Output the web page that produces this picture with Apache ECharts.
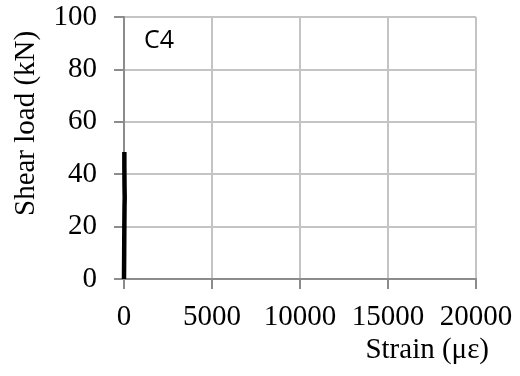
<!DOCTYPE html>
<html>
<head>
<meta charset="utf-8">
<script src="https://cdn.jsdelivr.net/npm/echarts@6/dist/echarts.min.js"></script>
<style>
  html, body { margin: 0; padding: 0; background: #fff; }
  #chart { width: 520px; height: 376px; }
</style>
</head>
<body>
<div id="chart"></div>
<script>
// Strain gauge reading (µε) against applied shear load (kN), specimen C4
const strain = [0, 5, 10, 15, 20, 25, 30, 40, 30, 25, 20, 20, 20];
const load   = [0, 5, 10, 15, 20, 24, 28, 31, 35, 39, 43, 46, 48.5];

const xTicks = [0, 5000, 10000, 15000, 20000];
const yTicks = [0, 20, 40, 60, 80, 100];

const specimen = 'C4';
const xTitle = 'Strain (\u03bc\u03b5)';
const yTitle = 'Shear load (kN)';

const serif = '"Liberation Serif", "Times New Roman", serif';
const gridColor = '#c4c4c4';
const axisColor = '#8c8c8c';

const chart = echarts.init(document.getElementById('chart'), null, { renderer: 'canvas' });

chart.setOption({
  animation: false,
  backgroundColor: '#ffffff',
  grid: { left: 124, right: 44, top: 17, bottom: 97, containLabel: false },
  xAxis: {
    type: 'value',
    min: xTicks[0],
    max: xTicks[xTicks.length - 1],
    interval: xTicks[1] - xTicks[0],
    axisLine: { show: true, lineStyle: { color: axisColor, width: 2 } },
    axisTick: { show: true, length: 10, lineStyle: { color: axisColor, width: 2 } },
    splitLine: { show: true, lineStyle: { color: gridColor, width: 2 } },
    axisLabel: {
      fontFamily: serif, fontSize: 29, color: '#000', margin: 24,
      showMaxLabel: true, showMinLabel: true,
      formatter: v => String(v)
    }
  },
  yAxis: {
    type: 'value',
    min: yTicks[0],
    max: yTicks[yTicks.length - 1],
    interval: yTicks[1] - yTicks[0],
    axisLine: { show: true, onZero: false, lineStyle: { color: axisColor, width: 2 } },
    axisTick: { show: true, length: 10, lineStyle: { color: axisColor, width: 2 } },
    splitLine: { show: true, lineStyle: { color: gridColor, width: 2 } },
    axisLabel: { fontFamily: serif, fontSize: 29, color: '#000', margin: 27 }
  },
  graphic: [
    {
      type: 'text', left: 144, top: 28,
      style: { text: specimen, font: '25px "Open Sans", "Noto Sans", sans-serif', fill: '#000' }
    },
    {
      type: 'text', right: 31, top: 336,
      style: { text: xTitle, font: '29px ' + serif, fill: '#000' }
    },
    {
      type: 'text', rotation: Math.PI / 2, x: 12, y: 216,
      style: { text: yTitle, font: '29px ' + serif, fill: '#000', textVerticalAlign: 'top' }
    }
  ],
  series: [{
    type: 'line',
    data: strain.map((s, i) => [s, load[i]]),
    showSymbol: false,
    lineStyle: { color: '#000', width: 4.5 },
    z: 5
  }]
});
</script>
</body>
</html>
